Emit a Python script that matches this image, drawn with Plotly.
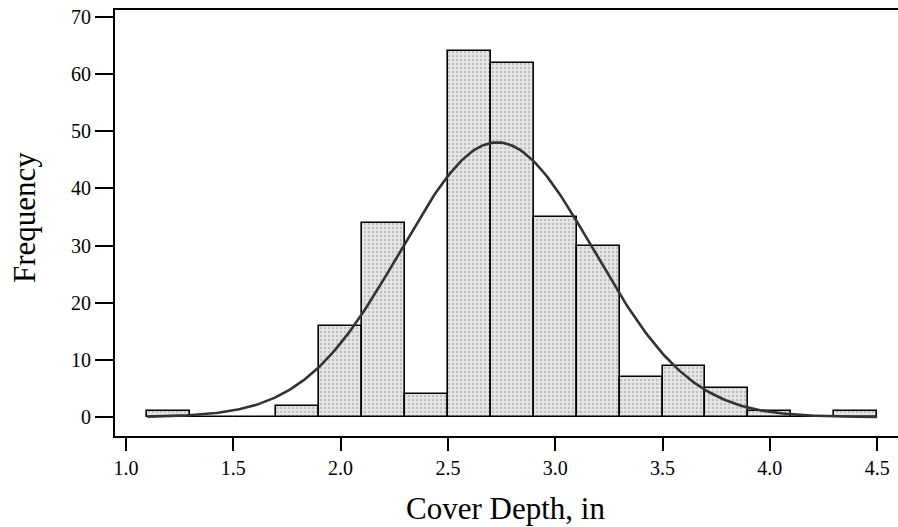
import numpy as np
import plotly.graph_objects as go

# Histogram data (bin width 0.2)
bin_left = [1.1, 1.3, 1.5, 1.7, 1.9, 2.1, 2.3, 2.5, 2.7, 2.9, 3.1, 3.3, 3.5, 3.7, 3.9, 4.1, 4.3]
counts = [1, 0, 0, 2, 16, 34, 4, 64, 62, 35, 30, 7, 9, 5, 1, 0, 1]
bin_width = 0.2

# Fitted normal curve parameters
fit_mean = 2.73
fit_sd = 0.45
n_total = sum(counts)

x_ticks = [1.0, 1.5, 2.0, 2.5, 3.0, 3.5, 4.0, 4.5]
y_ticks = [0, 10, 20, 30, 40, 50, 60, 70]

centers = [b + bin_width / 2 for b in bin_left]

xs = np.linspace(bin_left[0], bin_left[-1] + bin_width, 300)
ys = n_total * bin_width / (fit_sd * np.sqrt(2 * np.pi)) * np.exp(-0.5 * ((xs - fit_mean) / fit_sd) ** 2)

font = "Liberation Serif, Times New Roman, serif"

fig = go.Figure()
fig.add_trace(go.Bar(
    x=centers, y=counts, width=[bin_width] * len(counts),
    marker=dict(
        color="#e6e6e6",
        line=dict(color="black", width=1.6),
        pattern=dict(shape=".", fgcolor="#9a9a9a", bgcolor="#e6e6e6", size=4, solidity=0.3),
    ),
    showlegend=False,
))
fig.add_trace(go.Scatter(
    x=xs, y=ys, mode="lines",
    line=dict(color="#333333", width=2.6),
    showlegend=False,
))

fig.update_layout(
    width=898, height=527,
    margin=dict(l=115, r=0, t=10, b=91),
    paper_bgcolor="white", plot_bgcolor="white",
    font=dict(family=font, color="black"),
    bargap=0,
    xaxis=dict(
        range=[0.949, 4.597], tickvals=x_ticks,
        ticktext=[f"{v:.1f}" for v in x_ticks],
        showline=True, linecolor="black", linewidth=2, mirror=True,
        ticks="outside", ticklen=13, tickwidth=2, tickcolor="black",
        showgrid=False, zeroline=False,
        tickfont=dict(size=20, family=font),
    ),
    yaxis=dict(
        range=[-3.33, 71.22], tickvals=y_ticks,
        showline=True, linecolor="black", linewidth=2,
        ticks="outside", ticklen=18, tickwidth=2, tickcolor="black",
        showgrid=False, zeroline=False,
        tickfont=dict(size=20, family=font),
    ),
    annotations=[
        dict(text="Cover Depth, in", xref="paper", yref="paper",
             x=(505 - 115) / 783, y=(436 - 508) / 426,
             xanchor="center", yanchor="middle", showarrow=False,
             font=dict(size=31, family=font, color="black")),
        dict(text="Frequency", xref="paper", yref="paper",
             x=(24 - 115) / 783, y=(436 - 218) / 426, textangle=-90,
             xanchor="center", yanchor="middle", showarrow=False,
             font=dict(size=31, family=font, color="black")),
    ],
)

fig.write_html("out.html")
